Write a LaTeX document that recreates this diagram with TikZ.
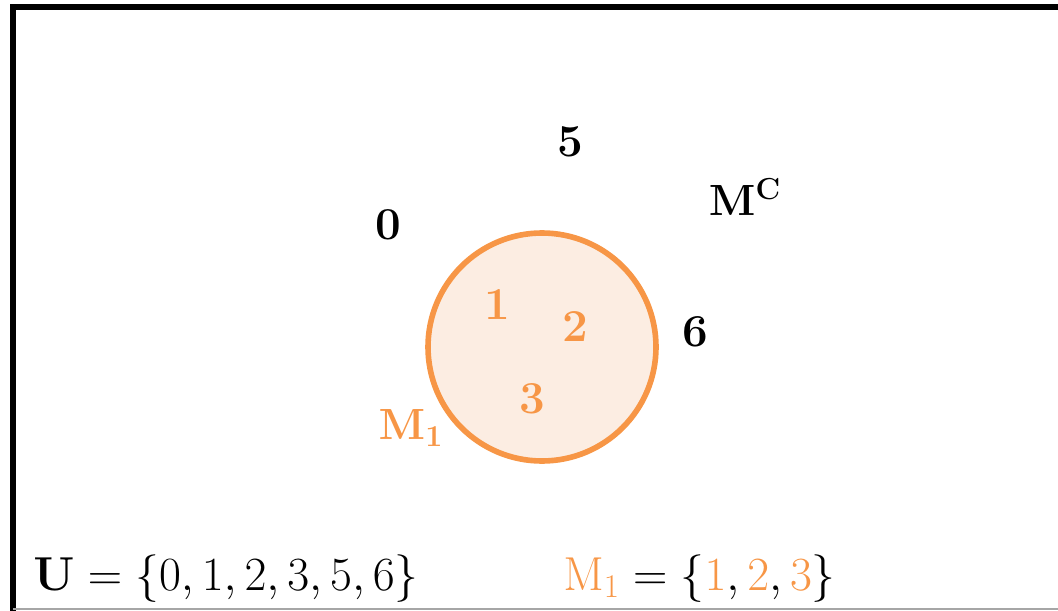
\documentclass[tikz,border=0pt]{standalone}
\usepackage{amsmath}
\usepackage{graphicx}
\usepackage{tikz}
\usetikzlibrary{positioning}
\definecolor{setorange}{HTML}{F79646}
\definecolor{setfill}{HTML}{FCEDE2}
\newcommand{\setline}[1]{\scalebox{1.09}{#1}}
\tikzset{
  elem/.style={font=\fontsize{26}{30}\selectfont\bfseries,inner sep=0pt},
  inelem/.style={elem,text=setorange},
  settext/.style={font=\fontsize{26}{32}\selectfont,inner sep=0pt,anchor=base west}
}

\begin{document}
\begin{tikzpicture}[x=0.02cm,y=0.02cm]
 \useasboundingbox (0,0) rectangle (1058,610);
 % frame
 \draw[line width=3.2pt,line cap=rect] (13,0)--(13,603)--(1058,603);
 \draw[gray!70,line width=0.6pt] (13,1)--(1058,1);
 % set M_1
 \draw[setorange,fill=setfill,line width=3.2pt] (542,263) circle (114);
 \node[inelem] (n1) at (497,305) {1};
 \node[inelem] (n2) at (575,283) {2};
 \node[inelem] (n3) at (532,211) {3};
 \node[inelem] (m1) at (411,182) {$\mathbf{M}_{\mathbf{1}}$};
 % outside
 \node[elem] (n0) at (388,385) {0};
 \node[elem] (n5) at (570,468) {5};
 \node[elem] (n6) at (695,278) {6};
 \node[elem] (mc) at (745,413) {$\mathbf{M}^{\mathbf{C}}$};
 % sets
 \node[settext] (uset) at (33,20) {\setline{$\mathbf{U}=\{0,1,2,3,5,6\}$}};
 \node[settext] (mset) at (563,20) {\setline{$\textcolor{setorange}{\mathrm{M}_1}=\{\textcolor{setorange}{1},\textcolor{setorange}{2},\textcolor{setorange}{3}\}$}};
\end{tikzpicture}
\end{document}
